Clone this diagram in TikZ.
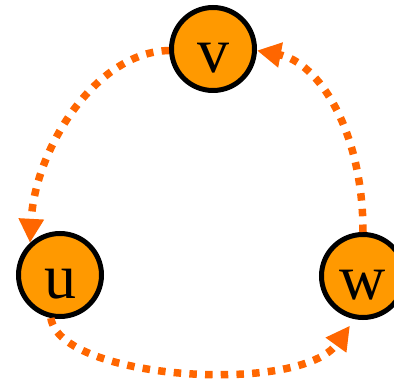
\documentclass[tikz,border=0pt]{standalone}
\usepackage{fontspec}
\setmainfont{Liberation Serif}
\usetikzlibrary{arrows.meta}
\definecolor{nodefill}{RGB}{255,153,0}
\definecolor{edgecol}{RGB}{255,102,0}
\tikzset{
  vertex/.style={circle, draw=black, line width=5pt, fill=nodefill, minimum size=83pt, inner sep=0pt,
    text height=48pt, text depth=0pt, font=\fontsize{64}{64}\selectfont},
  edge/.style={draw=edgecol, line width=7.5pt, dash pattern=on 7.5pt off 8.2pt,
    -{Triangle[length=24pt,width=24pt]}}
}
\begin{document}
\begin{tikzpicture}[x=1pt,y=-1pt]
\useasboundingbox (0,0) rectangle (394,379);
\node[vertex] (v) at (213,49) {v};
\node[vertex] (u) at (60,275) {u};
\node[vertex] (w) at (363,276) {w};
\draw[edge] (v.182) .. controls (95,52) and (35,150) .. (u.133);
\draw[edge] (w.north) .. controls (363,130) and (318,62) .. (v.358);
\draw[edge, shorten >=8pt] (u.258) .. controls (60,380) and (300,395) .. (w.259);
\end{tikzpicture}
\end{document}
